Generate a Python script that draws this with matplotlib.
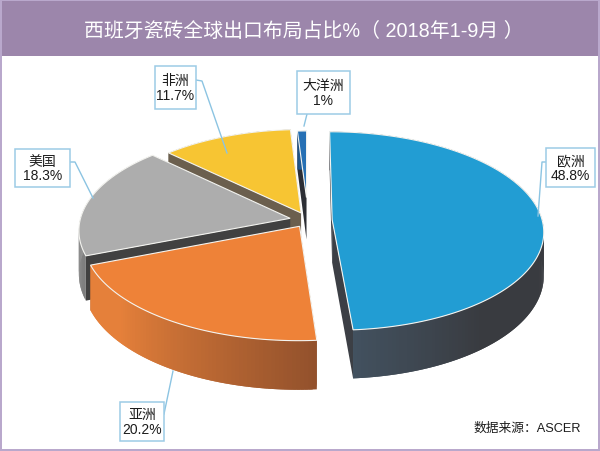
import numpy as np
import matplotlib
matplotlib.use('Agg')
import matplotlib.pyplot as plt
from matplotlib.patches import Polygon, Rectangle
from matplotlib.colors import to_rgb

plt.rcParams['font.family'] = ['Liberation Sans', 'Noto Sans CJK SC', 'DejaVu Sans']

# --- data ---
title = '西班牙瓷砖全球出口布局占比%（ 2018年1-9月 ）'
source = '数据来源：ASCER'
categories = ['欧洲', '亚洲', '美国', '非洲', '大洋洲']
shares = [48.8, 20.2, 18.3, 11.7, 1.0]
share_labels = ['48.8%', '20.2%', '18.3%', '11.7%', '1%']

# --- styling per slice ---
top_cols = ['#229dd3', '#ee8238', '#adadad', '#f7c533', '#2670b4']
wall_cols = ['#3c3f45', '#8f5230', '#414141', '#6b5f4e', '#2c2e34']
side_light = ['#42515f', '#e5803a', '#b5b5b5', '#6b5f4e', '#2670b4']
side_dark = ['#393b40', '#92512c', '#7d7d7d', '#6b5f4e', '#1e4f80']
explode = [0.115, 0.075, 0.087, 0.08, 0.235]
radius = [1.0, 1.015, 1.0, 0.96, 0.78]
draw_order = [4, 3, 2, 0, 1]
boxes = {0: (546, 149, 595, 188), 1: (120, 403, 164, 442), 2: (15, 150, 70, 188),
         3: (155, 67, 196, 110), 4: (297, 72, 350, 115)}
leaders = {0: [(546, 163), (542, 163), (538, 217)],
           1: [(164, 415), (173, 372)],
           2: [(70, 163), (75, 163), (93, 199)],
           3: [(196, 81), (202, 82), (227, 154)],
           4: [(307, 115), (304, 127)]}

CX, CY, RX, RY, P, DEPTH = 308, 221, 210, 98, 0.115, 43

def project(X, Y, drop=0.0):
    X, Y = np.asarray(X, float), np.asarray(Y, float)
    s = 1 / (1 + P * Y)
    return CX + RX * X * s, CY - RY * Y * s + drop * DEPTH * s

fig = plt.figure(figsize=(6.0, 4.52), dpi=100, facecolor='#b9a8cc')
ax = fig.add_axes([0, 0, 1, 1])
ax.set_xlim(0, 600)
ax.set_ylim(452, 0)
ax.axis('off')

ax.add_patch(Rectangle((2, 2), 596, 448, fc='white', ec='none', zorder=0))
ax.add_patch(Rectangle((2, 2), 596, 55, fc='#9c86ab', ec='none', zorder=1))
ax.text(304, 31, title, color='white', fontsize=14.3, ha='center', va='center', zorder=2)

edges = np.cumsum([0] + shares) / sum(shares) * 2 * np.pi
z = 3
for i in draw_order:
    a0, a1 = edges[i], edges[i + 1]
    mid = (a0 + a1) / 2
    ox, oy = explode[i] * np.sin(mid), explode[i] * np.cos(mid)
    th = np.linspace(a0, a1, max(int((a1 - a0) * 60), 6))
    ex, ey = ox + radius[i] * np.sin(th), oy + radius[i] * np.cos(th)

    # radial walls
    for xe, ye in ((ex[0], ey[0]), (ex[-1], ey[-1])):
        px0, py0 = project([ox, xe], [oy, ye])
        px1, py1 = project([xe, ox], [ye, oy], 1)
        ax.add_patch(Polygon(np.c_[np.r_[px0, px1], np.r_[py0, py1]],
                             fc=wall_cols[i], ec='none', zorder=z))
    z += 1
    # outer curved wall: overlapping strips give a smooth shaded sweep
    c_d, c_l = np.array(to_rgb(side_dark[i])), np.array(to_rgb(side_light[i]))
    n = len(th) - 1
    for k in range(n):
        t = (k + 0.5) / n
        if i == 0:
            w = max(0.0, (t - 0.8) / 0.2)      # lighter only near the front corner
        elif i == 1:
            w = min(1.0, t / 0.75)             # brown at the corner, bright towards the left
        else:
            w = t
        col = c_d + (c_l - c_d) * w
        seg = slice(k, min(k + 3, n + 1))
        qx0, qy0 = project(ex[seg], ey[seg])
        qx1, qy1 = project(ex[seg][::-1], ey[seg][::-1], 1)
        ax.add_patch(Polygon(np.c_[np.r_[qx0, qx1], np.r_[qy0, qy1]],
                             fc=col, ec='none', zorder=z))
    z += 1
    # top face
    tx, ty = project(np.r_[ox, ex], np.r_[oy, ey])
    ax.add_patch(Polygon(np.c_[tx, ty], fc=top_cols[i], ec='#f4f4f0', lw=0.8,
                         joinstyle='miter', zorder=z))
    z += 1

# labels
for i, name in enumerate(categories):
    x0, y0, x1, y1 = boxes[i]
    pts = np.array(leaders[i])
    ax.plot(pts[:, 0], pts[:, 1], color='#8cc4e2', lw=1.0, zorder=40)
    ax.add_patch(Rectangle((x0, y0), x1 - x0, y1 - y0, fc='white', ec='#9ccbe6',
                           lw=1.1, zorder=41))
    ax.text((x0 + x1) / 2, (y0 + y1) / 2, f'{name}\n{share_labels[i]}', color='#1c1c1c',
            fontsize=10, ha='center', va='center', linespacing=1.05, zorder=42)

ax.text(581, 429, source, color='#1c1c1c', fontsize=9.2, ha='right', va='center', zorder=42)

fig.savefig('out.png', dpi=100, facecolor=fig.get_facecolor())
